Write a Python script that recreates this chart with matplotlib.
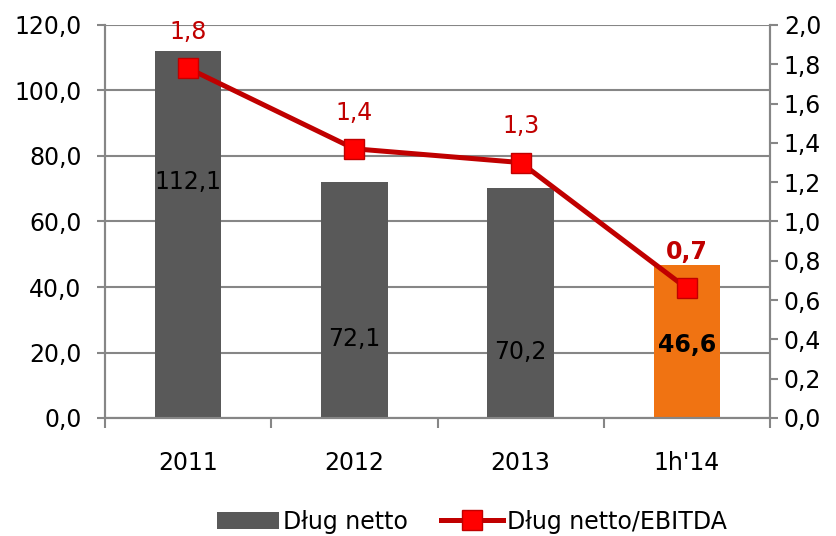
import matplotlib
matplotlib.use("Agg")
import matplotlib.pyplot as plt
from matplotlib.ticker import FuncFormatter, FixedLocator

categories = ["2011", "2012", "2013", "1h'14"]
debt = [112.1, 72.1, 70.2, 46.6]
ratio = [1.78, 1.37, 1.30, 0.66]
debt_label_pos = [72.0, 24.0, 20.2, 22.3]

fig = plt.figure(figsize=(8.36, 5.36), dpi=100)
ax = fig.add_axes([105/836, 1-418/536, (770-105)/836, (418-25)/536])
ax2 = ax.twinx()

FS = 17
gray_axis = "#868686"
bar_colors = ["#595959", "#595959", "#595959", "#F07312"]
x = list(range(len(categories)))
ax.bar(x, debt, width=0.4, color=bar_colors, zorder=2, label="Dług netto")
ax.set_xlim(-0.5, len(categories) - 0.5)
ax.set_ylim(0, 120)
ax.set_yticks([0, 20, 40, 60, 80, 100, 120])
ax.yaxis.set_major_formatter(FuncFormatter(lambda v, p: f"{v:.1f}".replace(".", ",")))
ax.grid(axis="y", color=gray_axis, linewidth=1.5, zorder=0)
ax.set_axisbelow(True)

ax.set_xticks(x)
ax.set_xticklabels(categories)
ax.xaxis.set_minor_locator(FixedLocator([i - 0.5 for i in range(len(categories) + 1)]))
ax.tick_params(axis="x", which="major", length=0, pad=24, labelsize=FS)
ax.tick_params(axis="x", which="minor", length=7, width=1.5, color=gray_axis)
ax.tick_params(axis="y", length=6, width=1.5, color=gray_axis, labelsize=FS, pad=11)

for i, (v, yp) in enumerate(zip(debt, debt_label_pos)):
    bold = i == len(debt) - 1
    ax.text(i, yp, f"{v:.1f}".replace(".", ","), ha="center", va="center",
            fontsize=FS, fontweight="bold" if bold else "normal", color="black", zorder=5)

ax2.plot(x, ratio, color="#C00000", linewidth=3.6, marker="s", markersize=14,
         markerfacecolor="#FF0000", markeredgecolor="#C00000", markeredgewidth=1,
         zorder=4, label="Dług netto/EBITDA")
ax2.set_ylim(0, 2.0)
ax2.set_yticks([0.0, 0.2, 0.4, 0.6, 0.8, 1.0, 1.2, 1.4, 1.6, 1.8, 2.0])
ax2.yaxis.set_major_formatter(FuncFormatter(lambda v, p: f"{v:.1f}".replace(".", ",")))
ax2.tick_params(axis="y", length=6, width=1.5, color=gray_axis, labelsize=FS, pad=4)

for i, r in enumerate(ratio):
    bold = i == len(ratio) - 1
    ax2.annotate(f"{r:.1f}".replace(".", ","), (i, r), xytext=(0, 26),
                 textcoords="offset points", ha="center", va="center",
                 fontsize=FS, color="#C00000", fontweight="bold" if bold else "normal")

for a in (ax, ax2):
    for s in a.spines.values():
        s.set_color(gray_axis)
        s.set_linewidth(1.5)
    a.spines["top"].set_visible(False)

h1, l1 = ax.get_legend_handles_labels()
h2, l2 = ax2.get_legend_handles_labels()
leg = fig.legend(h1 + h2, l1 + l2, loc="center", bbox_to_anchor=(0.565, 0.027),
                 ncol=2, frameon=False, fontsize=FS, handlelength=2.6,
                 columnspacing=1.4, handletextpad=0.2)

fig.savefig("out.png", dpi=100)
